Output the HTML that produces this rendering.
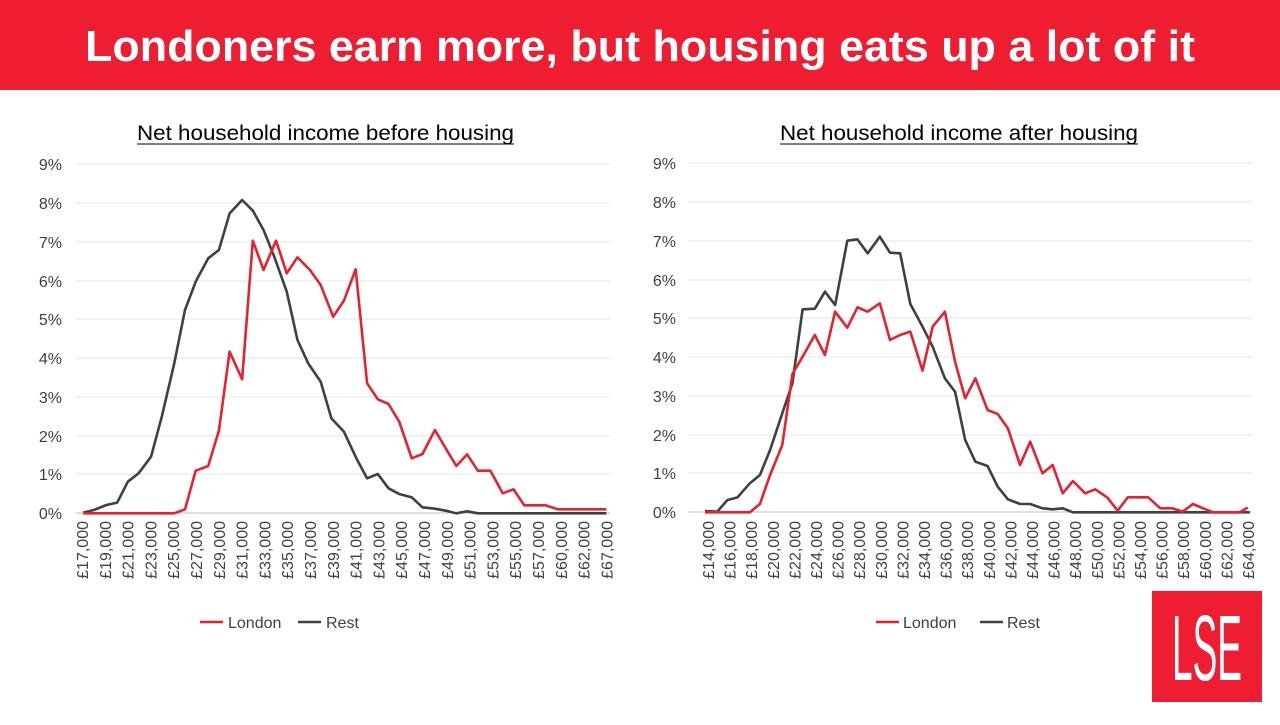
<!DOCTYPE html>
<html><head><meta charset="utf-8"><style>
body{margin:0;width:1280px;height:720px;background:#fff;overflow:hidden;font-family:"Liberation Sans",sans-serif}
</style></head><body>
<svg width="1280" height="720" viewBox="0 0 1280 720" xmlns="http://www.w3.org/2000/svg" font-family="Liberation Sans, sans-serif">
<rect x="0" y="0" width="1280" height="90" fill="#ee1d32"/>
<text x="85" y="61" textLength="1110" lengthAdjust="spacingAndGlyphs" fill="#fff" font-size="44" font-weight="bold">Londoners earn more, but housing eats up a lot of it</text>

<text x="137" y="140" textLength="377" lengthAdjust="spacingAndGlyphs" font-size="21" fill="#000">Net household income before housing</text>
<line x1="137" y1="144" x2="514" y2="144" stroke="#000" stroke-width="1"/>
<text x="780" y="140" textLength="358" lengthAdjust="spacingAndGlyphs" font-size="21" fill="#000">Net household income after housing</text>
<line x1="780" y1="144" x2="1138" y2="144" stroke="#000" stroke-width="1"/>

<g stroke="#e6e6e6" stroke-width="1">
<line x1="76" y1="164" x2="610" y2="164"/><line x1="76" y1="203" x2="610" y2="203"/><line x1="76" y1="242" x2="610" y2="242"/><line x1="76" y1="281" x2="610" y2="281"/><line x1="76" y1="319" x2="610" y2="319"/><line x1="76" y1="358" x2="610" y2="358"/><line x1="76" y1="397" x2="610" y2="397"/><line x1="76" y1="436" x2="610" y2="436"/><line x1="76" y1="474" x2="610" y2="474"/>
<line x1="688" y1="163" x2="1252" y2="163"/><line x1="688" y1="202" x2="1252" y2="202"/><line x1="688" y1="241" x2="1252" y2="241"/><line x1="688" y1="280" x2="1252" y2="280"/><line x1="688" y1="318" x2="1252" y2="318"/><line x1="688" y1="357" x2="1252" y2="357"/><line x1="688" y1="396" x2="1252" y2="396"/><line x1="688" y1="435" x2="1252" y2="435"/><line x1="688" y1="473" x2="1252" y2="473"/>
</g>
<line x1="76" y1="513" x2="610" y2="513" stroke="#bfbfbf"/>
<line x1="688" y1="512" x2="1252" y2="512" stroke="#bfbfbf"/>

<g font-size="16" fill="#404040" text-anchor="end">
<text x="62" y="170">9%</text><text x="62" y="209">8%</text><text x="62" y="248">7%</text><text x="62" y="287">6%</text><text x="62" y="325">5%</text><text x="62" y="364">4%</text><text x="62" y="403">3%</text><text x="62" y="442">2%</text><text x="62" y="480">1%</text><text x="62" y="519">0%</text>
<text x="676" y="169">9%</text><text x="676" y="208">8%</text><text x="676" y="247">7%</text><text x="676" y="286">6%</text><text x="676" y="324">5%</text><text x="676" y="363">4%</text><text x="676" y="402">3%</text><text x="676" y="441">2%</text><text x="676" y="479">1%</text><text x="676" y="518">0%</text>
</g>

<g transform="translate(60,150) scale(0.3571,0.33333)" fill="none" stroke-linejoin="round">
<polyline stroke="#404040" stroke-width="2.6" vector-effect="non-scaling-stroke" points="65,1088 95,1080 130,1065 160,1058 190,995 220,970 255,920 285,800 320,640 350,480 380,395 415,325 445,300 475,190 510,150 540,182 570,240 600,320 635,425 665,570 695,640 730,695 760,805 795,845 830,925 860,985 890,972 920,1015 950,1032 985,1042 1015,1072 1050,1076 1080,1082 1110,1090 1140,1084 1170,1090 1530,1090"/>
<polyline stroke="#e8202f" stroke-width="2.6" vector-effect="non-scaling-stroke" points="65,1090 320,1090 350,1078 380,962 415,948 445,842 475,605 510,688 540,272 570,360 605,272 635,370 665,322 700,360 730,405 765,500 795,452 828,358 860,700 890,748 920,762 950,815 985,925 1015,912 1050,840 1080,895 1110,948 1140,913 1170,962 1205,962 1240,1030 1270,1018 1300,1066 1360,1066 1395,1078 1530,1078"/>
</g>
<g transform="translate(640,150) scale(0.4065,0.33333)" fill="none" stroke-linejoin="round">
<polyline stroke="#404040" stroke-width="2.6" vector-effect="non-scaling-stroke" points="160,1083 190,1085 215,1050 240,1042 270,1000 295,975 320,900 350,790 375,700 400,478 430,476 455,425 480,465 510,272 535,268 560,310 590,260 615,308 640,310 665,462 695,530 720,590 750,685 775,725 800,870 825,935 855,948 880,1010 905,1048 935,1062 960,1062 990,1075 1015,1078 1040,1075 1065,1087 1500,1087"/>
<polyline stroke="#e8202f" stroke-width="2.6" vector-effect="non-scaling-stroke" points="160,1087 270,1087 295,1062 320,975 350,885 375,672 400,620 430,555 455,615 480,485 510,533 535,472 560,485 590,460 615,570 640,555 665,545 695,662 720,530 750,485 775,635 800,745 825,685 855,780 880,792 905,835 935,945 960,875 990,970 1015,945 1040,1030 1065,993 1095,1030 1120,1018 1150,1043 1175,1082 1200,1042 1250,1042 1280,1075 1310,1075 1335,1085 1360,1062 1385,1075 1410,1087 1475,1087 1495,1073"/>
</g>

<g font-size="16" fill="#404040" text-anchor="end">
<text transform="translate(88,521) rotate(-90)">£17,000</text><text transform="translate(110.8,521) rotate(-90)">£19,000</text><text transform="translate(133.6,521) rotate(-90)">£21,000</text><text transform="translate(156.4,521) rotate(-90)">£23,000</text><text transform="translate(179.2,521) rotate(-90)">£25,000</text><text transform="translate(202,521) rotate(-90)">£27,000</text><text transform="translate(224.8,521) rotate(-90)">£29,000</text><text transform="translate(247.6,521) rotate(-90)">£31,000</text><text transform="translate(270.4,521) rotate(-90)">£33,000</text><text transform="translate(293.2,521) rotate(-90)">£35,000</text><text transform="translate(316,521) rotate(-90)">£37,000</text><text transform="translate(338.8,521) rotate(-90)">£39,000</text><text transform="translate(361.6,521) rotate(-90)">£41,000</text><text transform="translate(384.4,521) rotate(-90)">£43,000</text><text transform="translate(407.2,521) rotate(-90)">£45,000</text><text transform="translate(430,521) rotate(-90)">£47,000</text><text transform="translate(452.8,521) rotate(-90)">£49,000</text><text transform="translate(475.6,521) rotate(-90)">£51,000</text><text transform="translate(498.4,521) rotate(-90)">£53,000</text><text transform="translate(521.2,521) rotate(-90)">£55,000</text><text transform="translate(544,521) rotate(-90)">£57,000</text><text transform="translate(566.8,521) rotate(-90)">£60,000</text><text transform="translate(589.6,521) rotate(-90)">£62,000</text><text transform="translate(612.4,521) rotate(-90)">£67,000</text>
</g>
<g font-size="16" fill="#404040" text-anchor="end">
<text transform="translate(714,521) rotate(-90)">£14,000</text><text transform="translate(735.6,521) rotate(-90)">£16,000</text><text transform="translate(757.2,521) rotate(-90)">£18,000</text><text transform="translate(778.8,521) rotate(-90)">£20,000</text><text transform="translate(800.4,521) rotate(-90)">£22,000</text><text transform="translate(822,521) rotate(-90)">£24,000</text><text transform="translate(843.6,521) rotate(-90)">£26,000</text><text transform="translate(865.2,521) rotate(-90)">£28,000</text><text transform="translate(886.8,521) rotate(-90)">£30,000</text><text transform="translate(908.4,521) rotate(-90)">£32,000</text><text transform="translate(930,521) rotate(-90)">£34,000</text><text transform="translate(951.6,521) rotate(-90)">£36,000</text><text transform="translate(973.2,521) rotate(-90)">£38,000</text><text transform="translate(994.8,521) rotate(-90)">£40,000</text><text transform="translate(1016.4,521) rotate(-90)">£42,000</text><text transform="translate(1038,521) rotate(-90)">£44,000</text><text transform="translate(1059.6,521) rotate(-90)">£46,000</text><text transform="translate(1081.2,521) rotate(-90)">£48,000</text><text transform="translate(1102.8,521) rotate(-90)">£50,000</text><text transform="translate(1124.4,521) rotate(-90)">£52,000</text><text transform="translate(1146,521) rotate(-90)">£54,000</text><text transform="translate(1167.6,521) rotate(-90)">£56,000</text><text transform="translate(1189.2,521) rotate(-90)">£58,000</text><text transform="translate(1210.8,521) rotate(-90)">£60,000</text><text transform="translate(1232.4,521) rotate(-90)">£62,000</text><text transform="translate(1254,521) rotate(-90)">£64,000</text>
</g>

<g font-size="16" fill="#404040">
<line x1="200" y1="622" x2="223" y2="622" stroke="#e8202f" stroke-width="2.5"/><text x="228" y="628">London</text>
<line x1="298" y1="622" x2="321" y2="622" stroke="#404040" stroke-width="2.5"/><text x="326" y="628">Rest</text>
<line x1="876" y1="622" x2="899" y2="622" stroke="#e8202f" stroke-width="2.5"/><text x="903" y="628">London</text>
<line x1="980" y1="622" x2="1003" y2="622" stroke="#404040" stroke-width="2.5"/><text x="1007" y="628">Rest</text>
</g>

<rect x="1152" y="591" width="110" height="111" fill="#ee1d32"/>
<text x="1172" y="680" textLength="70" lengthAdjust="spacingAndGlyphs" fill="#fff" font-size="93">LSE</text>
</svg>
</body></html>
